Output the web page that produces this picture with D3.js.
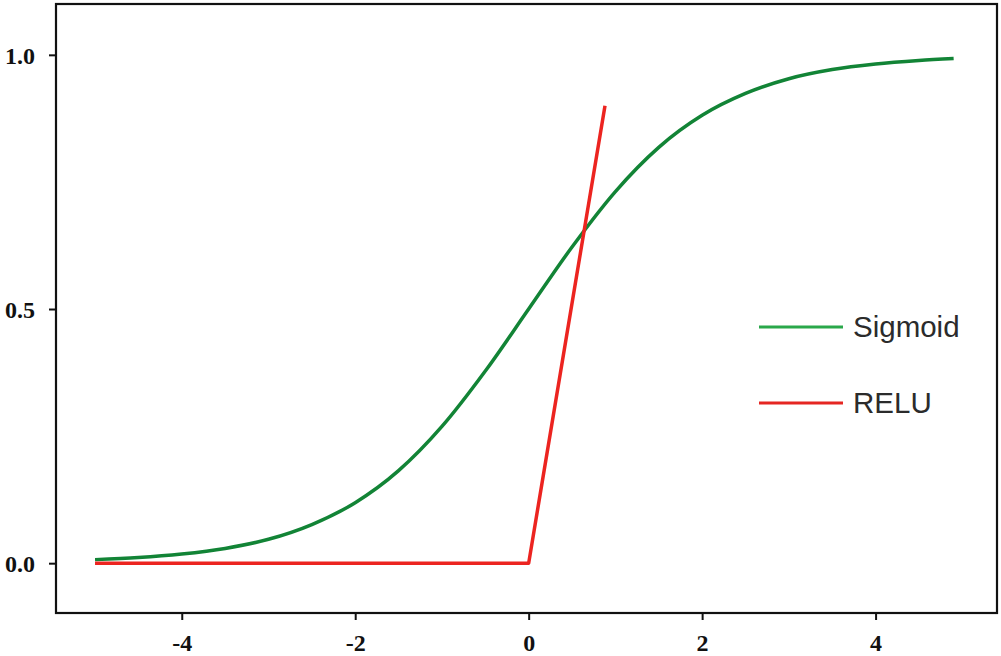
<!DOCTYPE html>
<html>
<head>
<meta charset="utf-8">
<script src="https://cdn.jsdelivr.net/npm/d3@7"></script>
<style>
  body { margin: 0; background: #fff; }
  svg { display: block; }
</style>
</head>
<body>
<div id="chart"></div>
<script>
const width = 1001;
const height = 656;

// plot frame in pixels
const frameLeft = 56;
const frameRight = 997;
const frameTop = 4;
const frameBottom = 613;

const xTicks = [-4, -2, 0, 2, 4];
const yTicks = [0.0, 0.5, 1.0];

// values
const sigmoidX = [-5, -4.5, -4, -3.5, -3, -2.5, -2, -1.5, -1, -0.5, 0, 0.5, 1, 1.5, 2, 2.5, 3, 3.5, 4, 4.5, 4.9];
const sigmoidY = [0.007, 0.011, 0.018, 0.029, 0.047, 0.076, 0.119, 0.182, 0.269, 0.378, 0.5, 0.622, 0.731, 0.818, 0.881, 0.924, 0.953, 0.971, 0.982, 0.989, 0.993];

const reluX = [-5, 0, 0.88];
const reluY = [0, 0, 0.9];

const seriesNames = ["Sigmoid", "RELU"];
const seriesColors = ["#128436", "#ec2420"];
const legendColors = ["#2aa84a", "#e52622"];

const x = d3.scaleLinear().domain([-5.45, 5.4]).range([frameLeft, frameRight]);
const y = d3.scaleLinear().domain([-0.098, 1.1]).range([frameBottom, frameTop]);

const svg = d3.select("#chart")
    .append("svg")
    .attr("width", width)
    .attr("height", height);

const line = d3.line()
    .x(d => x(d[0]))
    .y(d => y(d[1]));

svg.append("path")
    .datum(sigmoidX.map((v, i) => [v, sigmoidY[i]]))
    .attr("fill", "none")
    .attr("stroke", seriesColors[0])
    .attr("stroke-width", 3.5)
    .attr("d", line.curve(d3.curveMonotoneX));

svg.append("path")
    .datum(reluX.map((v, i) => [v, reluY[i]]))
    .attr("fill", "none")
    .attr("stroke", seriesColors[1])
    .attr("stroke-width", 3.5)
    .attr("stroke-linejoin", "round")
    .attr("d", line.curve(d3.curveLinear));

// frame
svg.append("rect")
    .attr("x", frameLeft)
    .attr("y", frameTop)
    .attr("width", frameRight - frameLeft)
    .attr("height", frameBottom - frameTop)
    .attr("fill", "none")
    .attr("stroke", "#111")
    .attr("stroke-width", 2.2);

const xAxis = svg.append("g")
    .attr("transform", `translate(0,${frameBottom})`)
    .call(d3.axisBottom(x).tickValues(xTicks).tickSize(7).tickPadding(14).tickFormat(d => String(d)));

const yAxis = svg.append("g")
    .attr("transform", `translate(${frameLeft},0)`)
    .call(d3.axisLeft(y).tickValues(yTicks).tickSize(7).tickPadding(14).tickFormat(d => d.toFixed(1)));

[xAxis, yAxis].forEach(g => {
    g.select(".domain").remove();
    g.selectAll(".tick line").attr("stroke", "#111").attr("stroke-width", 2);
    g.selectAll(".tick text")
        .attr("fill", "#111")
        .style("font-family", "'Liberation Serif', 'DejaVu Serif', serif")
        .style("font-weight", "bold")
        .style("font-size", "24px");
});
yAxis.selectAll(".tick text").attr("dy", "0.36em");

// legend
const legend = svg.append("g");
seriesNames.forEach((name, i) => {
    const ly = 327 + i * 76;
    legend.append("line")
        .attr("x1", 759).attr("x2", 843)
        .attr("y1", ly).attr("y2", ly)
        .attr("stroke", legendColors[i])
        .attr("stroke-width", 3);
    legend.append("text")
        .attr("x", 853)
        .attr("y", ly + 10)
        .attr("fill", "#2b2b2b")
        .style("font-family", "'Liberation Sans', Arial, sans-serif")
        .style("font-size", "29.5px")
        .text(name);
});
</script>
</body>
</html>
